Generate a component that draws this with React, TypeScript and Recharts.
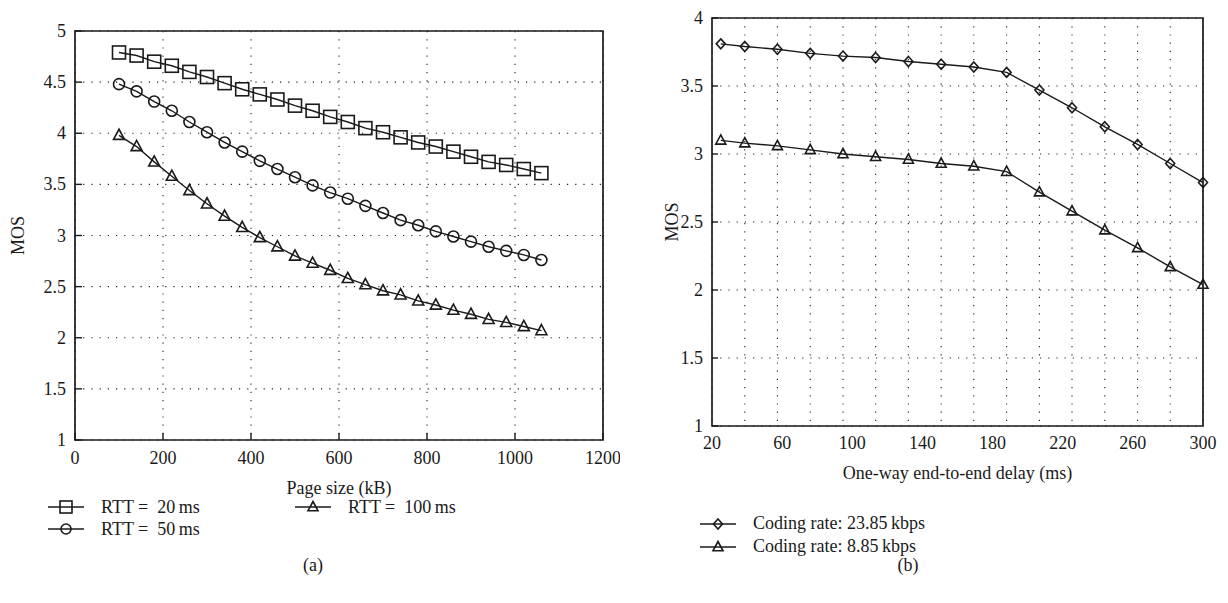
import React from "react";
import {
  CartesianGrid,
  Label,
  Legend,
  Line,
  LineChart,
  ReferenceArea,
  XAxis,
  YAxis,
} from "recharts";

// (a) MOS against page size, one curve per RTT
const pageSizes = [100, 140, 180, 220, 260, 300, 340, 380, 420, 460, 500, 540, 580, 620, 660, 700, 740, 780, 820, 860, 900, 940, 980, 1020, 1060];
const mosRtt20 = [4.79, 4.76, 4.7, 4.66, 4.6, 4.55, 4.49, 4.43, 4.38, 4.33, 4.27, 4.22, 4.16, 4.11, 4.05, 4.01, 3.96, 3.91, 3.87, 3.82, 3.77, 3.72, 3.69, 3.65, 3.61];
const mosRtt50 = [4.48, 4.41, 4.31, 4.22, 4.11, 4.01, 3.91, 3.82, 3.73, 3.65, 3.57, 3.49, 3.42, 3.36, 3.29, 3.22, 3.15, 3.1, 3.04, 2.99, 2.94, 2.89, 2.85, 2.81, 2.76];
const mosRtt100 = [3.98, 3.87, 3.72, 3.58, 3.44, 3.31, 3.19, 3.08, 2.98, 2.89, 2.8, 2.73, 2.66, 2.58, 2.52, 2.46, 2.42, 2.36, 2.32, 2.27, 2.23, 2.18, 2.15, 2.11, 2.07];
const pageTicks = [0, 200, 400, 600, 800, 1000, 1200];
const mosTicksA = [1, 1.5, 2, 2.5, 3, 3.5, 4, 4.5, 5];

// (b) MOS against one-way delay, one curve per coding rate
const delays = [25, 38.7, 57.3, 76, 94.7, 113.3, 132, 150.7, 169.3, 188, 206.7, 225.3, 244, 262.7, 281.3, 300];
const mosRate2385 = [3.81, 3.79, 3.77, 3.74, 3.72, 3.71, 3.68, 3.66, 3.64, 3.6, 3.47, 3.34, 3.2, 3.07, 2.93, 2.79];
const mosRate885 = [3.1, 3.08, 3.06, 3.03, 3.0, 2.98, 2.96, 2.93, 2.91, 2.87, 2.72, 2.58, 2.44, 2.31, 2.17, 2.04];
const delayLabels = [20, 60, 100, 140, 180, 220, 260, 300];
const delayMarks = [20, 38.7, 57.3, 76, 94.7, 113.3, 132, 150.7, 169.3, 188, 206.7, 225.3, 244, 262.7, 281.3, 300];
const mosTicksB = [1, 1.5, 2, 2.5, 3, 3.5, 4];

const pageData = pageSizes.map((size, i) => ({
  size,
  rtt20: mosRtt20[i],
  rtt50: mosRtt50[i],
  rtt100: mosRtt100[i],
}));
const delayData = delays.map((delay, i) => ({
  delay,
  r2385: mosRate2385[i],
  r885: mosRate885[i],
}));

const FONT = '"Liberation Serif", "DejaVu Serif", serif';
const INK = "#1a1a1a";
const FS = 18;
const textStyle = { fontFamily: FONT, fontSize: FS, fill: INK };
const GRID = { stroke: "#222", strokeWidth: 1.1, strokeDasharray: "1.2 7" };

type Shape = "square" | "circle" | "triangle" | "diamond";

function Marker({ shape, cx, cy, size }: { shape: Shape; cx: number; cy: number; size: number }) {
  const h = size / 2;
  const common = { fill: "none", stroke: INK, strokeWidth: 1.6 };
  if (shape === "square") return <rect x={cx - h} y={cy - h} width={size} height={size} {...common} />;
  if (shape === "circle") return <circle cx={cx} cy={cy} r={h} {...common} />;
  if (shape === "diamond")
    return <polygon points={`${cx},${cy - h} ${cx + h * 0.9},${cy} ${cx},${cy + h} ${cx - h * 0.9},${cy}`} {...common} />;
  return <polygon points={`${cx},${cy - h * 1.1} ${cx + h},${cy + h * 0.75} ${cx - h},${cy + h * 0.75}`} {...common} />;
}

const dotOf = (shape: Shape, size: number) => (p: any) => (
  <Marker key={`${shape}-${p.index}`} shape={shape} cx={p.cx} cy={p.cy} size={size} />
);

// tickSize/tickMargin are 0, so x/y given to these are on the axis itself
const bottomTick = (mark: number, label: boolean, dy: number) => (p: any) => (
  <g>
    {mark > 0 && <line x1={p.x} x2={p.x} y1={p.y} y2={p.y - mark} stroke={INK} strokeWidth={1.4} />}
    {label && (
      <text x={p.x} y={p.y + dy} textAnchor="middle" {...textStyle}>
        {p.payload.value}
      </text>
    )}
  </g>
);
const leftTick = (mark: number) => (p: any) => (
  <g>
    <line x1={p.x} x2={p.x + mark} y1={p.y} y2={p.y} stroke={INK} strokeWidth={1.4} />
    <text x={p.x - 9} y={p.y + 6} textAnchor="end" {...textStyle}>
      {p.payload.value}
    </text>
  </g>
);

interface LegendItem { name: string; shape: Shape }

function LegendGrid({ items, columns, rowHeight }: { items: LegendItem[]; columns: string; rowHeight: number }) {
  return (
    <div
      style={{
        display: "grid",
        gridTemplateRows: `repeat(2, ${rowHeight}px)`,
        gridAutoFlow: "column",
        gridTemplateColumns: columns,
        fontFamily: FONT,
        fontSize: FS,
        color: INK,
      }}
    >
      {items.map((it) => (
        <div key={it.name} style={{ display: "flex", alignItems: "center", whiteSpace: "pre" }}>
          <svg width={36} height={16} style={{ marginRight: 17, flex: "none" }}>
            <line x1={0} x2={36} y1={8} y2={8} stroke={INK} strokeWidth={1.4} />
            <Marker shape={it.shape} cx={18} cy={8} size={it.shape === "square" ? 12 : 10} />
          </svg>
          <span>{it.name}</span>
        </div>
      ))}
    </div>
  );
}

const legendA: LegendItem[] = [
  { name: "RTT = \u00a020\u2009ms", shape: "square" },
  { name: "RTT = \u00a050\u2009ms", shape: "circle" },
  { name: "RTT = \u00a0100\u2009ms", shape: "triangle" },
];
const legendB: LegendItem[] = [
  { name: "Coding rate: 23.85\u2009kbps", shape: "diamond" },
  { name: "Coding rate: 8.85\u2009kbps", shape: "triangle" },
];

function PageSizeChart() {
  return (
    <LineChart width={620} height={603} data={pageData} margin={{ top: 31, right: 17, left: 10, bottom: 0 }}>
      <CartesianGrid {...GRID} />
      <XAxis
        type="number"
        dataKey="size"
        domain={[0, 1200]}
        ticks={pageTicks}
        interval={0}
        height={163}
        axisLine={false}
        tickLine={false}
        tickSize={0}
        tickMargin={0}
        tick={bottomTick(7, true, 24)}
      >
        <Label value="Page size (kB)" position="insideTop" offset={41} {...textStyle} />
      </XAxis>
      <YAxis
        type="number"
        domain={[1, 5]}
        ticks={mosTicksA}
        interval={0}
        width={65}
        axisLine={false}
        tickLine={false}
        tickSize={0}
        tickMargin={0}
        tick={leftTick(7)}
      >
        <Label value="MOS" angle={-90} position="insideLeft" offset={8} style={{ textAnchor: "middle" }} {...textStyle} />
      </YAxis>
      <ReferenceArea x1={0} x2={1200} y1={1} y2={5} fill="none" stroke={INK} strokeWidth={1.7} ifOverflow="visible" />
      <Line dataKey="rtt20" name="RTT = 20 ms" stroke={INK} strokeWidth={1.4} dot={dotOf("square", 13)} activeDot={false} isAnimationActive={false} />
      <Line dataKey="rtt50" name="RTT = 50 ms" stroke={INK} strokeWidth={1.4} dot={dotOf("circle", 11)} activeDot={false} isAnimationActive={false} />
      <Line dataKey="rtt100" name="RTT = 100 ms" stroke={INK} strokeWidth={1.4} dot={dotOf("triangle", 11)} activeDot={false} isAnimationActive={false} />
      <Legend
        layout="horizontal"
        verticalAlign="middle"
        align="center"
        wrapperStyle={{ top: 496, left: 48, width: 440 }}
        content={() => <LegendGrid items={legendA} columns="247px auto" rowHeight={22} />}
      />
    </LineChart>
  );
}

function DelayChart() {
  return (
    <LineChart width={608} height={603} data={delayData} margin={{ top: 18, right: 25, left: 44, bottom: 0 }}>
      <XAxis
        xAxisId="marks"
        type="number"
        dataKey="delay"
        domain={[20, 300]}
        ticks={delayMarks}
        interval={0}
        height={0}
        axisLine={false}
        tickLine={false}
        tickSize={0}
        tickMargin={0}
        tick={bottomTick(5, false, 0)}
      />
      <XAxis
        type="number"
        dataKey="delay"
        domain={[20, 300]}
        ticks={delayLabels}
        interval={0}
        height={177}
        axisLine={false}
        tickLine={false}
        tickSize={0}
        tickMargin={0}
        tick={bottomTick(0, true, 23)}
      >
        <Label value="One-way end-to-end delay (ms)" position="insideTop" offset={40} {...textStyle} />
      </XAxis>
      <YAxis
        type="number"
        domain={[1, 4]}
        ticks={mosTicksB}
        interval={0}
        width={48}
        axisLine={false}
        tickLine={false}
        tickSize={0}
        tickMargin={0}
        tick={leftTick(6)}
      >
        <Label value="MOS" angle={-90} position="insideLeft" offset={8} style={{ textAnchor: "middle" }} {...textStyle} />
      </YAxis>
      <CartesianGrid xAxisId="marks" {...GRID} />
      <ReferenceArea x1={20} x2={300} y1={1} y2={4} fill="none" stroke={INK} strokeWidth={1.7} ifOverflow="visible" />
      <Line dataKey="r2385" name="Coding rate: 23.85 kbps" stroke={INK} strokeWidth={1.4} dot={dotOf("diamond", 10)} activeDot={false} isAnimationActive={false} />
      <Line dataKey="r885" name="Coding rate: 8.85 kbps" stroke={INK} strokeWidth={1.4} dot={dotOf("triangle", 10)} activeDot={false} isAnimationActive={false} />
      <Legend
        layout="horizontal"
        verticalAlign="middle"
        align="center"
        wrapperStyle={{ top: 512, left: 80, width: 380 }}
        content={() => <LegendGrid items={legendB} columns="auto" rowHeight={23} />}
      />
    </LineChart>
  );
}

const panelLabel: React.CSSProperties = {
  position: "absolute",
  top: 565,
  transform: "translate(-50%, -50%)",
  fontFamily: FONT,
  fontSize: FS,
  color: INK,
};

export default function App() {
  return (
    <div style={{ position: "absolute", left: 0, top: 0, width: 1228, height: 603, background: "#fff", overflow: "hidden" }}>
      <div style={{ position: "absolute", left: 0, top: 0 }}>
        <PageSizeChart />
      </div>
      <div style={{ position: "absolute", left: 620, top: 0 }}>
        <DelayChart />
      </div>
      <div style={{ ...panelLabel, left: 313 }}>(a)</div>
      <div style={{ ...panelLabel, left: 908 }}>(b)</div>
    </div>
  );
}
